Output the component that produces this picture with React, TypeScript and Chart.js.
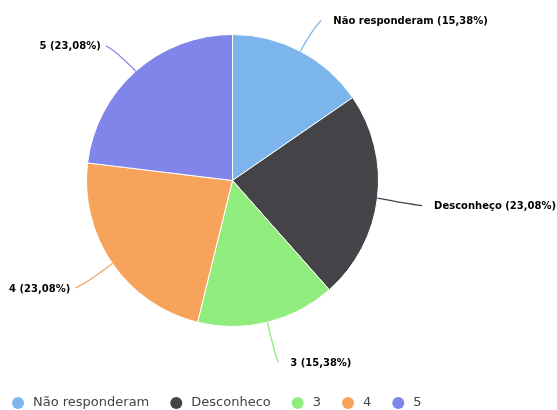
import React, { useEffect, useRef } from 'react';
import { Chart, registerables } from 'chart.js';

Chart.register(...registerables);

const categories = ['Não responderam', 'Desconheço', '3', '4', '5'];
const legendLabels = ['Não responderam', 'Desconheco', '3', '4', '5'];
const values = [2, 3, 2, 3, 3];
const colors = ['#7cb5ec', '#434348', '#90ed7d', '#f7a35c', '#8085e9'];

const pieLabelsPlugin = {
  id: 'pieLabels',
  afterDatasetsDraw(chart: any) {
    const ctx = chart.ctx;
    const meta = chart.getDatasetMeta(0);
    const data = chart.data.datasets[0].data as number[];
    const total = data.reduce((a, b) => a + b, 0);
    ctx.save();
    meta.data.forEach((arc: any, i: number) => {
      const { x, y, startAngle, endAngle, outerRadius } = arc.getProps(
        ['x', 'y', 'startAngle', 'endAngle', 'outerRadius'],
        true
      );
      const mid = (startAngle + endAngle) / 2;
      const dx = Math.cos(mid);
      const dy = Math.sin(mid);
      const ex = x + dx * outerRadius;
      const ey = y + dy * outerRadius;
      const qx = x + dx * (outerRadius + 30);
      const qy = y + dy * (outerRadius + 30) + 2;
      const lx = x + dx * (outerRadius + 45);
      const ly = y + dy * (outerRadius + 38) + 3;
      ctx.strokeStyle = colors[i];
      ctx.lineWidth = 1.3;
      ctx.beginPath();
      ctx.moveTo(ex, ey);
      ctx.quadraticCurveTo(qx, qy, lx, ly);
      ctx.stroke();
      const pct = ((data[i] / total) * 100).toFixed(2).replace('.', ',');
      const text = `${categories[i]} (${pct}%)`;
      ctx.font = 'bold 10px "DejaVu Sans"';
      ctx.fillStyle = '#000000';
      ctx.textBaseline = 'middle';
      const right = dx >= 0;
      ctx.textAlign = right ? 'left' : 'right';
      ctx.fillText(text, right ? lx + 12 : lx - 5, ly + 1);
    });
    ctx.restore();
  },
};

const legendPlugin = {
  id: 'customLegend',
  afterDraw(chart: any) {
    const ctx = chart.ctx;
    ctx.save();
    ctx.font = '13px "DejaVu Sans"';
    ctx.textBaseline = 'middle';
    ctx.textAlign = 'left';
    const yc = chart.height - 7;
    let x = 12;
    legendLabels.forEach((label, i) => {
      ctx.fillStyle = colors[i];
      ctx.beginPath();
      ctx.arc(x + 6, yc, 6, 0, Math.PI * 2);
      ctx.fill();
      ctx.fillStyle = '#444444';
      const tx = x + 21;
      ctx.fillText(label, tx, yc);
      x = tx + ctx.measureText(label).width + 21;
    });
    ctx.restore();
  },
};

export default function App() {
  const ref = useRef<HTMLCanvasElement>(null);
  useEffect(() => {
    if (!ref.current) return;
    const chart = new Chart(ref.current, {
      type: 'pie',
      data: {
        labels: categories,
        datasets: [
          {
            data: values,
            backgroundColor: colors,
            borderColor: '#ffffff',
            borderWidth: 1,
            hoverOffset: 0,
            offset: 0,
          },
        ],
      },
      options: {
        responsive: false,
        animation: false,
        events: [],
        layout: { padding: { left: 86, top: 34, right: 178, bottom: 83 } },
        plugins: {
          legend: { display: false },
          tooltip: { enabled: false },
        },
      },
      plugins: [pieLabelsPlugin, legendPlugin],
    });
    return () => chart.destroy();
  }, []);
  return (
    <div style={{ position: 'fixed', left: 0, top: 0, width: 557, height: 410, background: '#fff' }}>
      <canvas ref={ref} width={557} height={410} style={{ display: 'block' }} />
    </div>
  );
}
